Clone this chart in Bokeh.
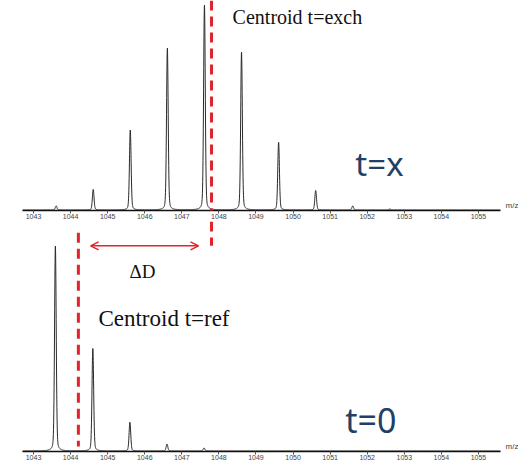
import numpy as np
from bokeh.plotting import figure
from bokeh.layouts import column
from bokeh.models import Range1d, Arrow, OpenHead, Label, FixedTicker
from bokeh.embed import file_html
from bokeh.resources import INLINE

# ---- data ----
peak_mz_exch = [1043.61, 1044.61, 1045.61, 1046.61, 1047.61, 1048.61, 1049.61, 1050.61, 1051.61, 1052.61]
peak_int_exch = [2, 10, 39, 79, 100, 77, 33, 9.5, 2, 0.5]
peak_mz_ref = [1043.59, 1044.60, 1045.60, 1046.60, 1047.60]
peak_int_ref = [100, 50, 14, 3.4, 1.5]
centroid_exch = 1047.80
centroid_ref = 1044.21
tick_values = list(range(1043, 1056))

X0, X1 = 1042.703, 1056.08
AXIS_END = 1055.594
RED = "#e3232b"
NAVY = "#243f66"

def profile(centers, heights, xs):
    ys = np.zeros_like(xs)
    for c, h in zip(centers, heights):
        g = np.exp(-((xs - c) ** 2) / (2 * 0.022 ** 2))
        l = 1.0 / (1.0 + ((xs - c) / 0.03) ** 2)
        ys += h * (0.8 * g + 0.2 * l)
    return ys

xs = np.arange(X0, AXIS_END, 0.004)

def make_fig(h, y0, y1):
    p = figure(width=520, height=h, output_backend="svg", toolbar_location=None,
               x_range=Range1d(X0, X1), y_range=Range1d(y0, y1),
               y_axis_location=None, min_border_left=22, min_border_right=2,
               min_border_top=0, min_border_bottom=0)
    p.outline_line_color = None
    p.xgrid.visible = False
    p.ygrid.visible = False
    ax = p.xaxis[0]
    ax.bounds = (X0, AXIS_END)
    ax.ticker = FixedTicker(ticks=tick_values)
    ax.axis_line_color = "#111111"
    ax.axis_line_width = 1.4
    ax.major_tick_in = 0
    ax.major_tick_out = 3
    ax.major_tick_line_color = "#555555"
    ax.minor_tick_line_color = None
    ax.major_label_text_font = "Liberation Sans"
    ax.major_label_text_font_size = "7px"
    ax.major_label_text_color = "#444444"
    ax.major_label_standoff = 0
    return p

# ---- top: t = x ----
p1 = make_fig(221, -0.25, 102.2)
p1.line(xs, profile(peak_mz_exch, peak_int_exch, xs), line_color="#2a2a2a", line_width=1)
p1.add_layout(Arrow(end=None, start=None, x_start=centroid_exch, y_start=102.2,
                    x_end=centroid_exch, y_end=-12, line_color=RED, line_width=3,
                    line_dash="10 6"))
p1.add_layout(Label(x=1048.37, y=94.3, text="Centroid t=exch",
                    text_font="Liberation Serif", text_font_size="20px",
                    text_baseline="middle", text_color="#111111"))
p1.add_layout(Label(x=1051.68, y=22.5, text="t=x", text_font="Noto Sans",
                    text_font_size="33px", text_baseline="alphabetic", text_color=NAVY))
p1.add_layout(Label(x=1055.73, y=-0.2, text="m/z", text_font="Liberation Sans",
                    text_font_size="8px", text_baseline="bottom", text_color="#444444"))

# ---- bottom: t = 0 ----
p2 = make_fig(241, -0.25, 111.85)
p2.line(xs, profile(peak_mz_ref, peak_int_ref, xs), line_color="#2a2a2a", line_width=1)
p2.segment(x0=[centroid_exch], y0=[111.85], x1=[centroid_exch], y1=[100],
           line_color=RED, line_width=3, line_dash="10 6")
p2.segment(x0=[centroid_ref], y0=[106.4], x1=[centroid_ref], y1=[2.2],
           line_color=RED, line_width=3, line_dash="10 6")
p2.add_layout(Arrow(start=OpenHead(size=8, line_color=RED, line_width=1.5),
                    end=OpenHead(size=8, line_color=RED, line_width=1.5),
                    x_start=1044.54, y_start=100, x_end=1047.45, y_end=100,
                    line_color=RED, line_width=1.5))
p2.add_layout(Label(x=1045.94, y=87.7, text="ΔD", text_font="Liberation Serif",
                    text_font_size="19px", text_baseline="middle", text_align="center",
                    text_color="#111111"))
p2.add_layout(Label(x=1044.75, y=64.8, text="Centroid t=ref", text_font="Liberation Serif",
                    text_font_size="23px", text_baseline="middle", text_color="#111111"))
p2.add_layout(Label(x=1051.41, y=15.1, text="t=0", text_font="Noto Sans",
                    text_font_size="34px", text_baseline="alphabetic", text_color=NAVY))
p2.add_layout(Label(x=1055.73, y=-0.2, text="m/z", text_font="Liberation Sans",
                    text_font_size="8px", text_baseline="bottom", text_color="#444444"))

layout = column(p1, p2, spacing=0)
open("out.html", "w").write(file_html(layout, INLINE))
